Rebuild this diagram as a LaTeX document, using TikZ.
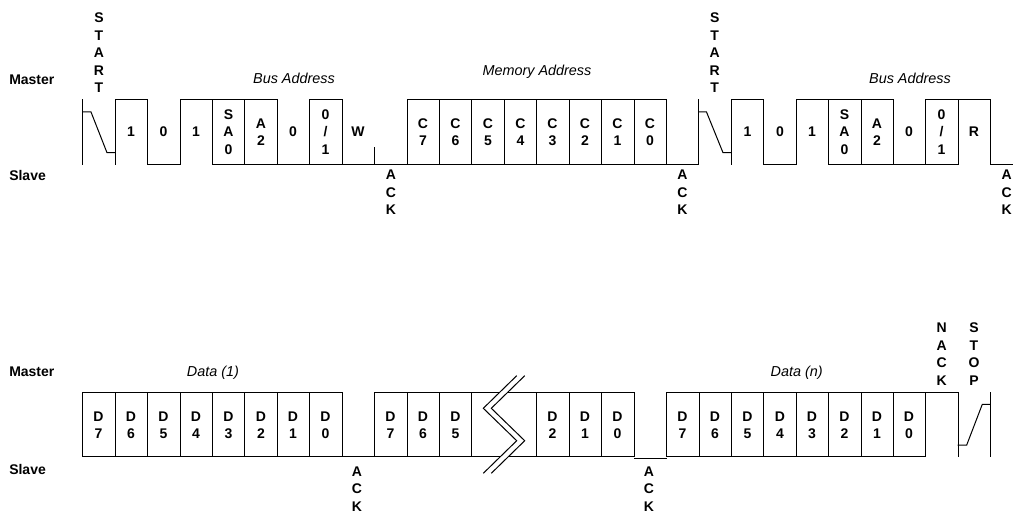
\documentclass[tikz,border=0pt]{standalone}
\usepackage{fontspec}
\setmainfont{Liberation Sans}
\usepackage{tikz}
\usetikzlibrary{positioning}

\begin{document}
\begin{tikzpicture}[
        x=0.75pt, y=-0.75pt,
        % Estilos
        side/.style={anchor=base west, inner sep=0pt, font=\fontsize{10.5}{13}\selectfont\bfseries},
        field/.style={anchor=base, inner sep=0pt, font=\fontsize{10.8}{13}\selectfont\itshape},
        bit/.style={inner sep=0pt, align=center, font=\fontsize{10.5}{13.1}\selectfont\bfseries},
        wave/.style={draw=black, line width=0.75pt, line cap=rect}
    ]
    \useasboundingbox (0,0) rectangle (1013,513);

    % 1. Lados
    \node (master1) [side] at (9,84.3) {Master};
    \node (slave1) [side] at (9,181) {Slave};
    \node (master2) [side] at (9,376) {Master};
    \node (slave2) [side] at (9,474) {Slave};

    % 2. Campos
    \node (bus1) [field] at (294,83.7) {Bus Address};
    \node (mem) [field] at (537,76) {Memory Address};
    \node (bus2) [field] at (910,83.7) {Bus Address};
    \node (data1) [field] at (213,376) {Data (1)};
    \node (datan) [field] at (796.7,376) {Data (n)};

    % 3. Eventos
    \node (start1) [bit] at (99,53) {S\\T\\A\\R\\T};
    \node (start2) [bit] at (714.7,53) {S\\T\\A\\R\\T};
    \node (ack1) [bit] at (391,192.5) {A\\C\\K};
    \node (ack2) [bit] at (682.5,192.5) {A\\C\\K};
    \node (ack3) [bit] at (1006.7,192.5) {A\\C\\K};
    \node (ack4) [bit] at (357,489) {A\\C\\K};
    \node (ack5) [bit] at (649,489) {A\\C\\K};
    \node (nack) [bit] at (941.7,354) {N\\A\\C\\K};
    \node (stop) [bit] at (974,354) {S\\T\\O\\P};

    % 4. Bits da primeira linha
    \foreach \x/\t in {131/1, 163.5/0, 196/1, 228.5/S\\A\\0, 261/A\\2, 293/0, 325.5/{0\\/\\1}, 358/W,
                       423/C\\7, 455.5/C\\6, 488/C\\5, 520.5/C\\4, 552.5/C\\3, 585/C\\2, 617.5/C\\1, 650/C\\0,
                       747.5/1, 780/0, 812/1, 844.5/S\\A\\0, 877/A\\2, 909/0, 941.5/{0\\/\\1}, 974/R}
        \node [bit] at (\x,132) {\t};

    % 5. Bits da segunda linha
    \foreach \x/\t in {98.5/D\\7, 131/D\\6, 163.5/D\\5, 196/D\\4, 228.5/D\\3, 261/D\\2, 293/D\\1, 325.5/D\\0,
                       390.5/D\\7, 423/D\\6, 455.5/D\\5, 552.5/D\\2, 585/D\\1, 617.5/D\\0,
                       682.5/D\\7, 715/D\\6, 747.5/D\\5, 780/D\\4, 812/D\\3, 844.5/D\\2, 877/D\\1, 909/D\\0}
        \node [bit] at (\x,425) {\t};

    % Traço da primeira linha: verticais
    \foreach \x in {82.5, 115, 147.5, 180, 212, 244.8, 277, 309.5, 342, 407, 439.3, 471.7, 504, 536.7, 569, 601.7, 634, 666.5, 698.5,
                    731, 763.7, 796, 828.5, 861, 893, 925.5, 958, 990}
        \draw [wave] (\x,99.5) -- (\x,164.5);
    \draw [wave] (374.3,148) -- (374.3,164.5);

    % Topo e base da primeira linha
    \draw [wave] (115,99.5) -- (147.5,99.5);
    \draw [wave] (180,99.5) -- (277,99.5);
    \draw [wave] (309.5,99.5) -- (342,99.5);
    \draw [wave] (407,99.5) -- (666.5,99.5);
    \draw [wave] (731,99.5) -- (763.7,99.5);
    \draw [wave] (796,99.5) -- (893,99.5);
    \draw [wave] (925.5,99.5) -- (990,99.5);
    \draw [wave] (147.5,164.5) -- (180,164.5);
    \draw [wave] (212,164.5) -- (698.5,164.5);
    \draw [wave] (763.7,164.5) -- (796,164.5);
    \draw [wave] (828.5,164.5) -- (958,164.5);
    \draw [wave] (990,164.5) -- (1013,164.5);

    % Condições de início e de parada
    \draw [wave] (82.5,112) -- (91,112) -- (107,152.7) -- (115,152.7);
    \draw [wave] (698.5,112) -- (706.5,112) -- (723,152.7) -- (731,152.7);
    \draw [wave] (958,445) -- (966.7,445) -- (982.3,404.3) -- (990.3,404.3);

    % Traço da segunda linha
    \foreach \x in {82.5, 115, 147.5, 180, 212, 244.8, 277, 309.5, 342, 374.3, 407, 439.3, 471.7, 536.7, 569, 601.7, 634,
                    666.5, 699, 731.3, 763.7, 796, 828.3, 861, 893, 925.7, 958, 990.3}
        \draw [wave] (\x,392) -- (\x,456.7);
    \draw [wave] (82.5,392) -- (342,392);
    \draw [wave] (374.3,392) -- (634,392);
    \draw [wave] (666.5,392) -- (958,392);
    \draw [wave] (82.5,456.7) -- (634,456.7);
    \draw [wave] (634,458) -- (666.5,458);
    \draw [wave] (666.5,456.7) -- (925.7,456.7);

    % Quebra
    \fill [white] (516.7,375.7) -- (483.3,408.3) -- (516.7,440.7) -- (483.3,473.3) -- (491.3,473.3) -- (524.7,440.7) -- (491.3,408.3) -- (524.7,375.7) -- cycle;
    \draw [wave, line cap=butt] (516.7,375.7) -- (483.3,408.3) -- (516.7,440.7) -- (483.3,473.3);
    \draw [wave, line cap=butt] (524.7,375.7) -- (491.3,408.3) -- (524.7,440.7) -- (491.3,473.3);

\end{tikzpicture}
\end{document}
